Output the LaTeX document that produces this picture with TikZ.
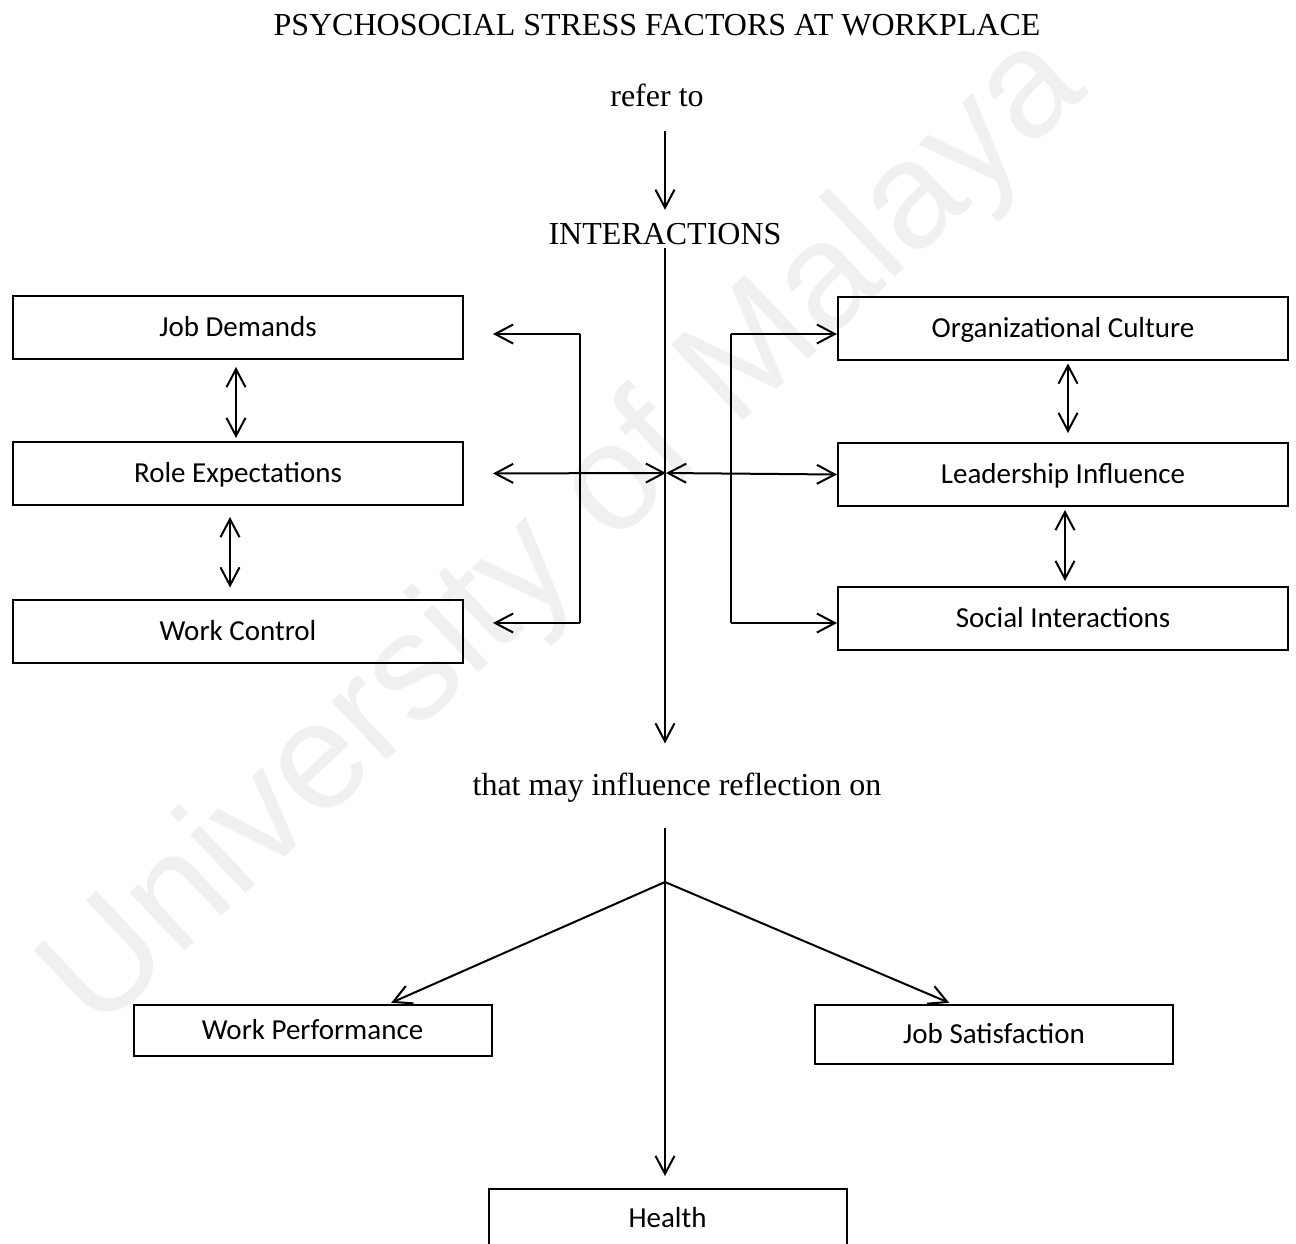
\documentclass[tikz,border=0pt]{standalone}
\usepackage{fontspec}
\setmainfont{Liberation Serif}
\newfontfamily\boxfont{Carlito}
\newfontfamily\markfont{Liberation Sans}
\usetikzlibrary{arrows.meta,calc}

\tikzset{
  x=0.5pt, y=-0.5pt,
  >={Straight Barb[length=9pt,width=9.5pt]},
  every path/.style={line width=1pt},
  heading/.style={inner sep=0pt, anchor=base, font=\fontsize{16}{19}\selectfont},
  factor/.style={draw, line width=1pt, inner sep=0pt, minimum width=225pt,
    minimum height=31.5pt, text height=9.3pt, text depth=0pt,
    font=\boxfont\fontsize{14.5}{17}\selectfont},
  outcome/.style={factor, minimum width=179pt},
}

\begin{document}
\begin{tikzpicture}
\useasboundingbox (0,0) rectangle (1296,1243);

% faint diagonal watermark behind everything
\node[rotate=43.5, text=black!6, font=\markfont\fontsize{76}{78}\selectfont]
  (wmark) at (567,535) {University of Malaya};

% headings
\node[heading] (title) at (657,35) {PSYCHOSOCIAL STRESS FACTORS AT WORKPLACE};
\node[heading] (refer) at (657,106) {refer to};
\node[heading] (inter) at (665,244) {INTERACTIONS};
\node[heading] (that)  at (677,795) {that may influence reflection on};

% left-hand factors
\node[factor] (jd) at (238,327.5) {Job Demands};
\node[factor] (re) at (238,473.5) {Role Expectations};
\node[factor] (wc) at (238,631)   {Work Control};

% right-hand factors
\node[factor] (oc) at (1063,328)   {Organizational Culture};
\node[factor] (li) at (1063,474.5) {Leadership Influence};
\node[factor] (si) at (1063,618.5) {Social Interactions};

% outcomes
\node[outcome, minimum height=25.5pt] (wp) at (312.5,1030.5) {Work Performance};
\node[outcome, minimum height=29.5pt] (js) at (994,1034.5)   {Job Satisfaction};
\node[outcome, minimum height=29.5pt] (health) at (667.5,1218.5) {Health};

% junction points
\coordinate (hub)  at (666,473);
\coordinate (lb1)  at (580,334);
\coordinate (lb2)  at (580,623);
\coordinate (rb1)  at (731,334);
\coordinate (rb2)  at (731,623);
\coordinate (fork) at (665,882);

% main spine
\draw[->, shorten <=12pt, shorten >=6pt] (refer.south -| inter.north) -- (inter.north);
\draw[->, shorten <=1.5pt, shorten >=14pt] (inter.south) -- (inter.south |- that.north);

% links into the left column
\draw[<->, shorten <=14.5pt] (re.east) -- (hub);
\draw[->, shorten >=14.5pt] (lb1) -- (lb1 -| jd.east);
\draw (lb1) -- (lb2);
\draw[->, shorten >=14.5pt] (lb2) -- (lb2 -| wc.east);

% links into the right column
\draw[<->] (hub) -- (li.west);
\draw[->] (rb1) -- (rb1 -| oc.west);
\draw (rb1) -- (rb2);
\draw[->] (rb2) -- (rb2 -| si.west);

% links within the columns
\draw[<->, shorten <=3.5pt, shorten >=1.5pt] ([xshift=-1pt]jd.south) -- ([xshift=-1pt]re.north);
\draw[<->, shorten <=5.5pt, shorten >=5.5pt] ([xshift=-4pt]re.south) -- ([xshift=-4pt]wc.north);
\draw[<->, shorten <=1.5pt, shorten >=4.5pt] ([xshift=2.5pt]oc.south) -- ([xshift=2.5pt]li.north);
\draw[<->, shorten <=1.5pt, shorten >=2.5pt] ([xshift=1pt]li.south) -- ([xshift=1pt]si.north);

% outcomes
\draw[->, shorten <=12.5pt, shorten >=6pt] (that.south -| fork) -- (fork |- health.north);
\draw[->, shorten >=1.5pt] (fork) -- ([xshift=38pt]wp.north);
\draw[->, shorten >=1.5pt] (fork) -- ([xshift=-21pt]js.north);
\end{tikzpicture}
\end{document}
